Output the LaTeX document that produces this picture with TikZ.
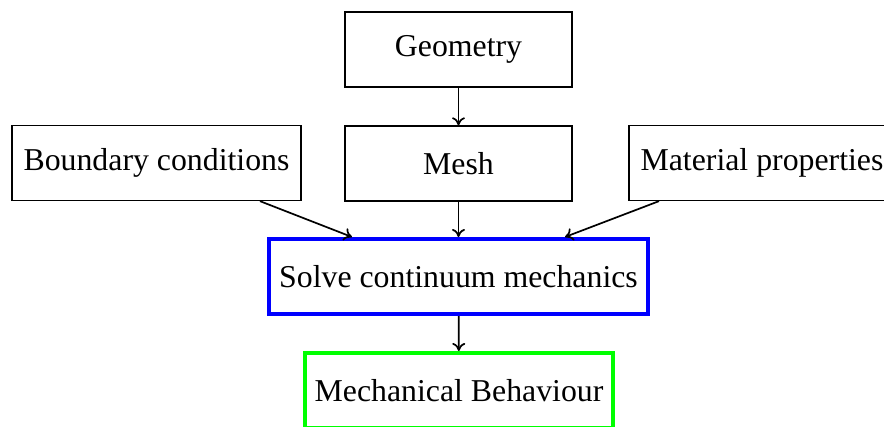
\documentclass[tikz,border=0pt]{standalone}
\usepackage{fontspec}
\setmainfont{Liberation Serif}
\usetikzlibrary{arrows.meta}
\begin{document}
\begin{tikzpicture}[x=1pt,y=-1pt,
  box/.style={draw=black,line width=1.3pt,inner sep=0pt,minimum height=75pt,
    font=\fontsize{31.8}{36}\selectfont,anchor=center},
  solvebox/.style={box,draw=blue,line width=4pt,minimum height=75pt},
  resultbox/.style={box,draw=green,line width=4pt,minimum height=75pt},
  conn/.style={line width=1.7pt,-{To[length=8pt,width=13pt,line width=1.7pt]}}]
\useasboundingbox (0,0) rectangle (884,426);
\clip (0,0) rectangle (884,426);
\node[box,minimum width=227pt] (geo) at (458.5,49.5) {Geometry};
\node[box,minimum width=227pt] (mesh) at (458.5,163.5) {Mesh};
\node[box,minimum width=289pt] (bc) at (156.5,163) {Boundary conditions};
\node[box,minimum width=266pt] (mat) at (762,163) {Material properties};
\node[solvebox,minimum width=379pt] (solve) at (458.5,276.5) {Solve continuum mechanics};
\node[resultbox,minimum width=308pt] (res) at (459,390.5) {Mechanical Behaviour};
\draw[conn] (geo) -- (mesh);
\draw[conn] (mesh) -- (solve);
\draw[conn] ([xshift=103.5pt]bc.south) -- ([xshift=-106.5pt]solve.north);
\draw[conn] ([xshift=-103pt]mat.south) -- ([xshift=106.5pt]solve.north);
\draw[conn] (solve) -- (res);
\end{tikzpicture}
\end{document}
